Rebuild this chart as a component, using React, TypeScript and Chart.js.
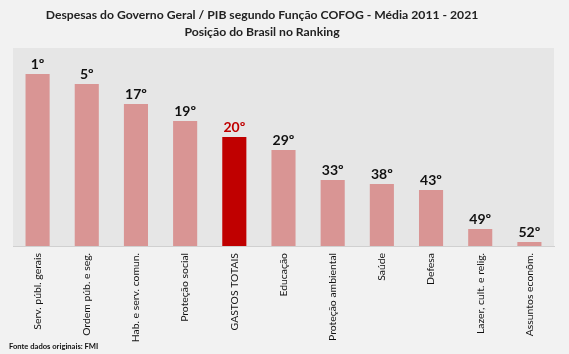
import React, { useEffect, useRef } from "react";
import { Chart, registerables } from "chart.js";

Chart.register(...registerables);

const categories = [
  "Serv. públ. gerais",
  "Ordem púb. e seg.",
  "Hab. e serv. comun.",
  "Proteção social",
  "GASTOS TOTAIS",
  "Educação",
  "Proteção ambiental",
  "Saúde",
  "Defesa",
  "Lazer, cult. e relig.",
  "Assuntos econôm.",
];
const barValues = [172, 162, 142, 125, 109, 96, 66, 62, 56, 17, 4];
const rankLabels = ["1º", "5º", "17º", "19º", "20º", "29º", "33º", "38º", "43º", "49º", "52º"];
const highlightIndex = 4;
const titleLines = [
  "Despesas do Governo Geral / PIB segundo Função COFOG - Média 2011 - 2021",
  "Posição do Brasil no Ranking",
];
const sourceNote = "Fonte dados originais: FMI";

const FONT = "Lato, 'Open Sans', sans-serif";
const BAR_COLOR = "#d99594";
const HIGHLIGHT = "#c00000";

export default function App() {
  const ref = useRef<HTMLCanvasElement | null>(null);
  useEffect(() => {
    document.body.style.margin = "0";
    const canvas = ref.current!;
    const decor = {
      id: "decor",
      beforeDraw(chart: any) {
        const { ctx, chartArea } = chart;
        ctx.save();
        ctx.fillStyle = "#f2f2f2";
        ctx.fillRect(0, 0, chart.width, chart.height);
        ctx.fillStyle = "#e6e6e6";
        ctx.fillRect(chartArea.left, chartArea.top, chartArea.right - chartArea.left, chartArea.bottom - chartArea.top);
        ctx.restore();
      },
      afterDraw(chart: any) {
        const { ctx } = chart;
        ctx.save();
        ctx.fillStyle = "#222";
        ctx.textAlign = "center";
        ctx.textBaseline = "middle";
        ctx.font = `bold 12.2px ${FONT}`;
        ctx.fillText(titleLines[0], 262, 15);
        ctx.fillText(titleLines[1], 262, 32);
        const meta = chart.getDatasetMeta(0);
        ctx.font = `bold 14px ${FONT}`;
        ctx.textBaseline = "alphabetic";
        meta.data.forEach((bar: any, i: number) => {
          ctx.fillStyle = i === highlightIndex ? HIGHLIGHT : "#111";
          ctx.fillText(rankLabels[i], bar.x, bar.y - 5);
        });
        ctx.textAlign = "left";
        ctx.textBaseline = "middle";
        ctx.fillStyle = "#111";
        ctx.font = `bold 7.6px ${FONT}`;
        ctx.fillText(sourceNote, 9, 347);
        ctx.restore();
      },
    };
    const chart = new Chart(canvas, {
      type: "bar",
      data: {
        labels: categories,
        datasets: [
          {
            data: barValues,
            backgroundColor: barValues.map((_, i) => (i === highlightIndex ? HIGHLIGHT : BAR_COLOR)),
            borderWidth: 0,
            barPercentage: 0.49,
            categoryPercentage: 1,
          },
        ],
      },
      options: {
        responsive: false,
        animation: false,
        layout: { padding: { top: 48, left: 13, right: 15, bottom: 0 } },
        plugins: { legend: { display: false }, tooltip: { enabled: false }, title: { display: false } },
        scales: {
          x: {
            grid: { display: false, drawTicks: false },
            border: { display: true, color: "#d0d0d0" },
            ticks: {
              minRotation: 90,
              maxRotation: 90,
              autoSkip: false,
              padding: 7,
              color: "#111",
              font: { family: FONT, size: 10.4 },
            },
            afterFit(scale: any) {
              scale.height = 108;
            },
          },
          y: { display: false, min: 0, max: 198 },
        },
      },
      plugins: [decor],
    });
    return () => chart.destroy();
  }, []);
  return (
    <div style={{ position: "fixed", left: 0, top: 0, width: 569, height: 354, background: "#f2f2f2" }}>
      <canvas ref={ref} width={569} height={354} style={{ display: "block", width: 569, height: 354 }} />
    </div>
  );
}
